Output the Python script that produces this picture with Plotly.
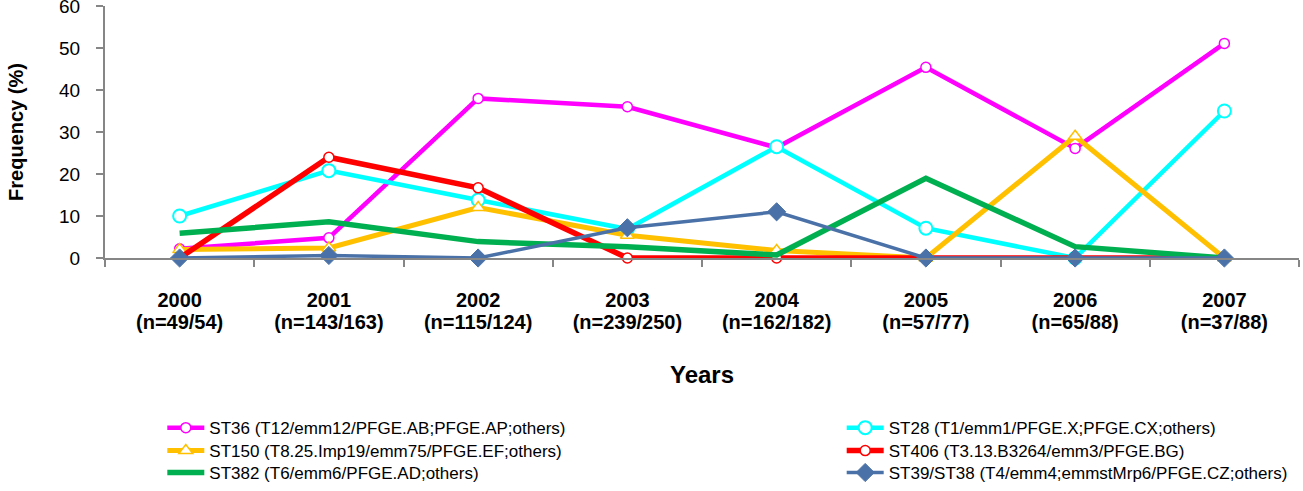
import plotly.graph_objects as go

years = ["2000", "2001", "2002", "2003", "2004", "2005", "2006", "2007"]
n_labels = ["(n=49/54)", "(n=143/163)", "(n=115/124)", "(n=239/250)",
            "(n=162/182)", "(n=57/77)", "(n=65/88)", "(n=37/88)"]

st36 = [2.2, 4.8, 38.0, 36.0, 26.3, 45.4, 26.1, 51.1]
st28 = [10.0, 20.8, 13.8, 6.9, 26.5, 7.1, 0.0, 35.0]
st150 = [2.0, 2.4, 12.0, 5.4, 1.8, 0.0, 29.0, 0.0]
st406 = [0.0, 24.0, 16.7, 0.0, 0.0, 0.0, 0.0, 0.0]
st382 = [5.9, 8.6, 3.9, 2.7, 0.7, 19.0, 2.7, 0.0]
st39 = [0.0, 0.6, 0.0, 7.2, 11.0, 0.0, 0.0, 0.0]

names = {
    "st36": "ST36 (T12/emm12/PFGE.AB;PFGE.AP;others)",
    "st28": "ST28 (T1/emm1/PFGE.X;PFGE.CX;others)",
    "st150": "ST150 (T8.25.Imp19/emm75/PFGE.EF;others)",
    "st406": "ST406 (T3.13.B3264/emm3/PFGE.BG)",
    "st382": "ST382 (T6/emm6/PFGE.AD;others)",
    "st39": "ST39/ST38 (T4/emm4;emmstMrp6/PFGE.CZ;others)",
}

FONT = "Liberation Sans, Arial, sans-serif"
AXC = "#868686"

fig = go.Figure()

def add(y, name, color, width, symbol=None, msize=0, mfill="white", mline=1.5, legend="legend"):
    mode = "lines+markers" if symbol else "lines"
    marker = dict(symbol=symbol, size=msize, color=mfill,
                  line=dict(color=color, width=mline)) if symbol else None
    fig.add_trace(go.Scatter(x=years, y=y, name=name, mode=mode,
                             line=dict(color=color, width=width),
                             marker=marker, legend=legend, cliponaxis=False))

add(st36, names["st36"], "#FF00FF", 4.5, "circle", 10, "white", 1.5, "legend")
add(st28, names["st28"], "#00FFFF", 4.5, "circle", 13, "white", 2, "legend2")
add(st150, names["st150"], "#FFC000", 5, "triangle-up", 12, "white", 1.5, "legend3")
add(st406, names["st406"], "#FF0000", 5.5, "circle", 10, "white", 1.5, "legend4")
add(st382, names["st382"], "#00B050", 5.5, None, legend="legend5")
add(st39, names["st39"], "#4A72A8", 3.5, "diamond", 14, "#4A72A8", 1, "legend6")

# helper trace for the secondary (n=...) label axis
fig.add_trace(go.Scatter(x=list(range(len(years))), y=[None] * len(years), xaxis="x2",
                         showlegend=False, hoverinfo="skip", mode="lines"))

def leg(x, y):
    return dict(x=x, y=y, xanchor="left", yanchor="middle", orientation="v",
                font=dict(size=17, family=FONT, color="#000000"), itemwidth=37,
                bgcolor="rgba(0,0,0,0)", tracegroupgap=0)

row_y = [-0.675, -0.766, -0.853]
col_x = [0.048, 0.617]

fig.update_layout(
    width=1303, height=491,
    margin=dict(l=105, r=4, t=6, b=233, autoexpand=False),
    paper_bgcolor="white", plot_bgcolor="white",
    font=dict(family=FONT, color="#000000"),
    showlegend=True,
    xaxis=dict(type="category", categoryarray=years, categoryorder="array",
               range=[-0.5, 7.5], tickson="boundaries", ticks="outside",
               ticklen=7, tickwidth=1.5, tickcolor=AXC, showline=True,
               linecolor=AXC, linewidth=2, showgrid=False, zeroline=False,
               tickfont=dict(size=20, family=FONT, color="#000000", weight="bold"),
               ticklabelstandoff=23, automargin=False),
    xaxis2=dict(overlaying="x", anchor="y", side="bottom", range=[-0.5, 7.5],
                tickmode="array", tickvals=list(range(len(years))), ticktext=n_labels,
                showline=False, showgrid=False, zeroline=False, ticks="",
                tickfont=dict(size=20, family=FONT, color="#000000", weight="bold"),
                ticklabelstandoff=50, automargin=False,
                title=dict(text="Years", font=dict(size=24, family=FONT, weight="bold"),
                           standoff=34)),
    yaxis=dict(range=[0, 60], tickmode="array", tickvals=[0, 10, 20, 30, 40, 50, 60],
               ticks="outside", ticklen=7, tickwidth=1.5, ticklabeloverflow="allow",
               tickcolor=AXC, showline=True, linecolor=AXC, linewidth=2,
               showgrid=False, zeroline=False, automargin=False,
               tickfont=dict(size=19, family=FONT, color="#000000"),
               ticklabelstandoff=12,
               title=dict(text="Frequency (%)", font=dict(size=20, family=FONT, weight="bold"),
                          standoff=30)),
    legend=leg(col_x[0], row_y[0]),
    legend2=leg(col_x[1], row_y[0]),
    legend3=leg(col_x[0], row_y[1]),
    legend4=leg(col_x[1], row_y[1]),
    legend5=leg(col_x[0], row_y[2]),
    legend6=leg(col_x[1], row_y[2]),
)

fig.write_html("out.html")
